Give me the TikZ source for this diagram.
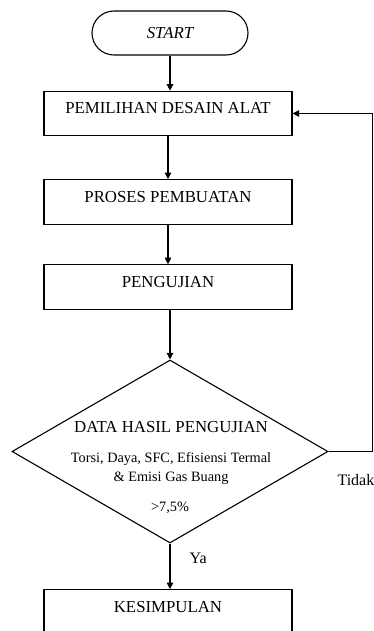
\documentclass[tikz,border=0pt]{standalone}
\usepackage{fontspec}
\setmainfont{Liberation Serif}
\usetikzlibrary{arrows.meta,shapes.geometric}
\begin{document}
\begin{tikzpicture}[x=1pt,y=-1pt,
  line width=1.1pt,
  flow/.style={-{Triangle[length=6.5pt,width=6.5pt]}},
  procbox/.style={draw, rectangle, minimum width=248pt, inner xsep=0pt, inner ysep=0pt,
     text height=22.3pt, text depth=22.3pt, font=\fontsize{16.8}{19}\selectfont},
  term/.style={draw, rectangle, rounded corners=22pt, minimum width=156pt, minimum height=44pt,
     inner sep=0pt, font=\fontsize{16.8}{19}\selectfont\itshape},
  decision/.style={draw, diamond, minimum width=316pt, minimum height=183pt, inner sep=0pt},
  bigtxt/.style={font=\fontsize{16.8}{19}\selectfont, inner sep=0pt, anchor=base},
  smalltxt/.style={font=\fontsize{14.3}{17}\selectfont, inner sep=0pt, anchor=base},
  lbl/.style={font=\fontsize{16}{18}\selectfont, inner sep=0pt, anchor=base west}
]
\useasboundingbox (0,0) rectangle (374,631);
\node[term] (start) at (170,33) {START};
\node[procbox] (b1) at (168,113.5) {PEMILIHAN DESAIN ALAT};
\node[procbox] (b2) at (168,202) {PROSES PEMBUATAN};
\node[procbox] (b3) at (168,287) {PENGUJIAN};
\node[decision] (d) at (170,451.5) {};
\node[bigtxt] (dt1) at (171,432.5) {DATA HASIL PENGUJIAN};
\node[smalltxt] (dt2) at (171,462.5) {Torsi, Daya, SFC, Efisiensi Termal};
\node[smalltxt] (dt3) at (171,481.5) {\& Emisi Gas Buang};
\node[smalltxt] (dt4) at (170,511.5) {>7,5\%};
\node[procbox] (b4) at (168,612) {KESIMPULAN};
\coordinate (fb) at (372.7,451.5);
\draw[flow] (start) -- (start |- b1.north);
\draw[flow] (b1) -- (b1 |- b2.north);
\draw[flow] (b2) -- (b2 |- b3.north);
\draw[flow] (b3.south -| d.north) -- (d.north);
\draw[flow] (d.south) -- (d.south |- b4.north);
\draw[flow] (d.east) -- (fb) |- (b1.east);
\node[lbl] (ya) at (189,563.5) {Ya};
\node[lbl] (tidak) at (337,485) {Tidak};
\end{tikzpicture}
\end{document}
